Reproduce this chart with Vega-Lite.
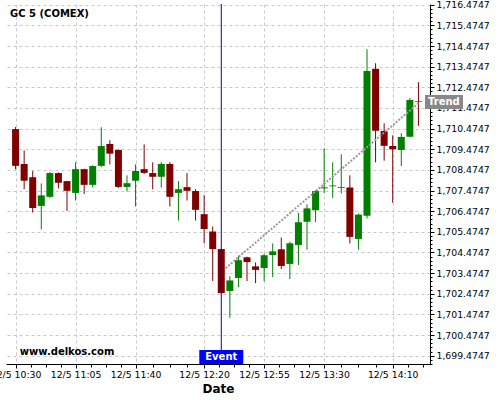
{
  "$schema": "https://vega.github.io/schema/vega-lite/v6.json",
  "width": 424,
  "height": 360,
  "autosize": {"type": "none"},
  "padding": {"left": 6, "top": 4, "right": 70, "bottom": 36},
  "config": {"font": "DejaVu Sans", "view": {"stroke": null}},
  "title": {"text": "GC 5 (COMEX)", "anchor": "start", "frame": "group", "orient": "top", "offset": -18, "dx": 4, "fontSize": 10, "fontWeight": "bold", "color": "#000000"},
  "datasets": {
    "candles": [
      {"t": "2012-12-05T10:30", "o": 1710.45, "h": 1710.55, "l": 1708.50, "c": 1708.67},
      {"t": "2012-12-05T10:35", "o": 1708.76, "h": 1709.42, "l": 1707.54, "c": 1707.95},
      {"t": "2012-12-05T10:40", "o": 1708.12, "h": 1708.42, "l": 1706.41, "c": 1706.63},
      {"t": "2012-12-05T10:45", "o": 1706.73, "h": 1707.82, "l": 1705.59, "c": 1707.24},
      {"t": "2012-12-05T10:50", "o": 1707.17, "h": 1708.38, "l": 1707.12, "c": 1708.32},
      {"t": "2012-12-05T10:55", "o": 1708.32, "h": 1708.35, "l": 1707.58, "c": 1707.85},
      {"t": "2012-12-05T11:00", "o": 1707.93, "h": 1707.95, "l": 1706.49, "c": 1707.46},
      {"t": "2012-12-05T11:05", "o": 1707.36, "h": 1708.84, "l": 1706.99, "c": 1708.51},
      {"t": "2012-12-05T11:10", "o": 1708.51, "h": 1708.53, "l": 1707.31, "c": 1707.75},
      {"t": "2012-12-05T11:15", "o": 1707.75, "h": 1708.70, "l": 1707.62, "c": 1708.66},
      {"t": "2012-12-05T11:20", "o": 1708.67, "h": 1710.54, "l": 1708.62, "c": 1709.63},
      {"t": "2012-12-05T11:25", "o": 1709.73, "h": 1709.91, "l": 1708.74, "c": 1709.26},
      {"t": "2012-12-05T11:30", "o": 1709.44, "h": 1709.46, "l": 1707.60, "c": 1707.65},
      {"t": "2012-12-05T11:35", "o": 1707.65, "h": 1708.21, "l": 1707.43, "c": 1707.83},
      {"t": "2012-12-05T11:40", "o": 1707.95, "h": 1708.74, "l": 1706.70, "c": 1708.42},
      {"t": "2012-12-05T11:45", "o": 1708.51, "h": 1709.71, "l": 1708.28, "c": 1708.33},
      {"t": "2012-12-05T11:50", "o": 1708.32, "h": 1708.84, "l": 1707.53, "c": 1708.14},
      {"t": "2012-12-05T11:55", "o": 1708.14, "h": 1708.85, "l": 1707.62, "c": 1708.76},
      {"t": "2012-12-05T12:00", "o": 1708.76, "h": 1708.85, "l": 1706.70, "c": 1707.17},
      {"t": "2012-12-05T12:05", "o": 1707.36, "h": 1707.93, "l": 1706.02, "c": 1707.54},
      {"t": "2012-12-05T12:10", "o": 1707.64, "h": 1708.32, "l": 1706.99, "c": 1707.46},
      {"t": "2012-12-05T12:15", "o": 1707.45, "h": 1707.54, "l": 1706.02, "c": 1706.54},
      {"t": "2012-12-05T12:20", "o": 1706.33, "h": 1707.25, "l": 1704.91, "c": 1705.61},
      {"t": "2012-12-05T12:25", "o": 1705.49, "h": 1705.73, "l": 1703.09, "c": 1704.64},
      {"t": "2012-12-05T12:30", "o": 1704.64, "h": 1704.66, "l": 1702.48, "c": 1702.51},
      {"t": "2012-12-05T12:35", "o": 1702.61, "h": 1703.32, "l": 1701.31, "c": 1703.12},
      {"t": "2012-12-05T12:40", "o": 1703.24, "h": 1704.32, "l": 1702.80, "c": 1704.10},
      {"t": "2012-12-05T12:45", "o": 1704.24, "h": 1704.27, "l": 1703.09, "c": 1704.01},
      {"t": "2012-12-05T12:50", "o": 1703.80, "h": 1703.99, "l": 1702.99, "c": 1703.63},
      {"t": "2012-12-05T12:55", "o": 1703.72, "h": 1704.42, "l": 1703.09, "c": 1704.34},
      {"t": "2012-12-05T13:00", "o": 1704.35, "h": 1704.91, "l": 1703.28, "c": 1704.53},
      {"t": "2012-12-05T13:05", "o": 1704.63, "h": 1705.20, "l": 1703.67, "c": 1703.82},
      {"t": "2012-12-05T13:10", "o": 1703.92, "h": 1705.00, "l": 1703.19, "c": 1704.92},
      {"t": "2012-12-05T13:15", "o": 1704.84, "h": 1706.39, "l": 1703.87, "c": 1705.94},
      {"t": "2012-12-05T13:20", "o": 1705.96, "h": 1706.81, "l": 1704.61, "c": 1706.61},
      {"t": "2012-12-05T13:25", "o": 1706.52, "h": 1707.49, "l": 1705.94, "c": 1707.45},
      {"t": "2012-12-05T13:30", "o": 1707.58, "h": 1709.52, "l": 1707.36, "c": 1707.63},
      {"t": "2012-12-05T13:35", "o": 1707.68, "h": 1708.84, "l": 1707.12, "c": 1707.72},
      {"t": "2012-12-05T13:40", "o": 1707.60, "h": 1709.23, "l": 1707.33, "c": 1707.64},
      {"t": "2012-12-05T13:45", "o": 1707.62, "h": 1708.21, "l": 1704.91, "c": 1705.23},
      {"t": "2012-12-05T13:50", "o": 1705.13, "h": 1706.36, "l": 1704.61, "c": 1706.31},
      {"t": "2012-12-05T13:55", "o": 1706.25, "h": 1714.32, "l": 1706.12, "c": 1713.27},
      {"t": "2012-12-05T14:00", "o": 1713.37, "h": 1713.64, "l": 1708.84, "c": 1710.37},
      {"t": "2012-12-05T14:05", "o": 1710.36, "h": 1710.73, "l": 1708.92, "c": 1709.64},
      {"t": "2012-12-05T14:10", "o": 1709.63, "h": 1710.15, "l": 1706.88, "c": 1709.47},
      {"t": "2012-12-05T14:15", "o": 1709.44, "h": 1710.25, "l": 1708.66, "c": 1710.07},
      {"t": "2012-12-05T14:20", "o": 1710.08, "h": 1711.95, "l": 1710.05, "c": 1711.86},
      {"t": "2012-12-05T14:25", "o": 1711.81, "h": 1712.72, "l": 1710.61, "c": 1711.78}
    ],
    "trend": [
      {"t": "2012-12-05T12:32:30", "v": 1703.71},
      {"t": "2012-12-05T14:25", "v": 1711.70}
    ],
    "events": [
      {"t": "2012-12-05T12:30", "label": "Event", "v": 1699.41}
    ],
    "tags": [
      {"t": "2012-12-05T14:28:50", "label": "Trend", "v": 1711.76}
    ],
    "marks": [
      {"t": "2012-12-05T10:32:30", "label": "www.delkos.com", "v": 1699.65}
    ]
  },
  "encoding": {
    "x": {
      "field": "t",
      "type": "temporal",
      "scale": {
        "domain": [
          {"year": 2012, "month": 12, "date": 5, "hours": 10, "minutes": 27, "seconds": 20},
          {"year": 2012, "month": 12, "date": 5, "hours": 14, "minutes": 28, "seconds": 50}
        ],
        "nice": false
      },
      "axis": {
        "title": "Date",
        "titleFontSize": 12,
        "titleFontWeight": "bold",
        "titleColor": "#000000",
        "titlePadding": 4,
        "format": "%-m/%-d %H:%M",
        "tickCount": 200,
        "labelExpr": "seconds(datum.value) == 0 && ((hours(datum.value)*60+minutes(datum.value)) == 630 || (hours(datum.value)*60+minutes(datum.value)) == 665 || (hours(datum.value)*60+minutes(datum.value)) == 700 || (hours(datum.value)*60+minutes(datum.value)) == 740 || (hours(datum.value)*60+minutes(datum.value)) == 775 || (hours(datum.value)*60+minutes(datum.value)) == 810 || (hours(datum.value)*60+minutes(datum.value)) == 850) ? datum.label : ''",
        "values": [
          {"year": 2012, "month": 12, "date": 5, "hours": 10, "minutes": 30},
          {"year": 2012, "month": 12, "date": 5, "hours": 10, "minutes": 38, "seconds": 45},
          {"year": 2012, "month": 12, "date": 5, "hours": 10, "minutes": 47, "seconds": 30},
          {"year": 2012, "month": 12, "date": 5, "hours": 10, "minutes": 56, "seconds": 15},
          {"year": 2012, "month": 12, "date": 5, "hours": 11, "minutes": 5},
          {"year": 2012, "month": 12, "date": 5, "hours": 11, "minutes": 13, "seconds": 45},
          {"year": 2012, "month": 12, "date": 5, "hours": 11, "minutes": 22, "seconds": 30},
          {"year": 2012, "month": 12, "date": 5, "hours": 11, "minutes": 31, "seconds": 15},
          {"year": 2012, "month": 12, "date": 5, "hours": 11, "minutes": 40},
          {"year": 2012, "month": 12, "date": 5, "hours": 11, "minutes": 50},
          {"year": 2012, "month": 12, "date": 5, "hours": 12, "minutes": 0},
          {"year": 2012, "month": 12, "date": 5, "hours": 12, "minutes": 10},
          {"year": 2012, "month": 12, "date": 5, "hours": 12, "minutes": 20},
          {"year": 2012, "month": 12, "date": 5, "hours": 12, "minutes": 28, "seconds": 45},
          {"year": 2012, "month": 12, "date": 5, "hours": 12, "minutes": 37, "seconds": 30},
          {"year": 2012, "month": 12, "date": 5, "hours": 12, "minutes": 46, "seconds": 15},
          {"year": 2012, "month": 12, "date": 5, "hours": 12, "minutes": 55},
          {"year": 2012, "month": 12, "date": 5, "hours": 13, "minutes": 3, "seconds": 45},
          {"year": 2012, "month": 12, "date": 5, "hours": 13, "minutes": 12, "seconds": 30},
          {"year": 2012, "month": 12, "date": 5, "hours": 13, "minutes": 21, "seconds": 15},
          {"year": 2012, "month": 12, "date": 5, "hours": 13, "minutes": 30},
          {"year": 2012, "month": 12, "date": 5, "hours": 13, "minutes": 40},
          {"year": 2012, "month": 12, "date": 5, "hours": 13, "minutes": 50},
          {"year": 2012, "month": 12, "date": 5, "hours": 14, "minutes": 0},
          {"year": 2012, "month": 12, "date": 5, "hours": 14, "minutes": 10},
          {"year": 2012, "month": 12, "date": 5, "hours": 14, "minutes": 18, "seconds": 45},
          {"year": 2012, "month": 12, "date": 5, "hours": 14, "minutes": 27, "seconds": 30}
        ],
        "labelFontSize": 9.3,
        "labelColor": "#000000",
        "labelPadding": 2,
        "labelOverlap": false,
        "labelFlush": false,
        "labelBound": false,
        "tickColor": "#000000",
        "tickSize": {"condition": {"test": "seconds(datum.value) == 0 && ((hours(datum.value)*60+minutes(datum.value)) == 630 || (hours(datum.value)*60+minutes(datum.value)) == 665 || (hours(datum.value)*60+minutes(datum.value)) == 700 || (hours(datum.value)*60+minutes(datum.value)) == 740 || (hours(datum.value)*60+minutes(datum.value)) == 775 || (hours(datum.value)*60+minutes(datum.value)) == 810 || (hours(datum.value)*60+minutes(datum.value)) == 850)", "value": 4}, "value": 3},
        "domainColor": "#000000",
        "grid": true,
        "gridColor": "#c8c8c8",
        "gridDash": [3, 3],
        "gridOpacity": {"condition": {"test": "seconds(datum.value) == 0 && ((hours(datum.value)*60+minutes(datum.value)) == 630 || (hours(datum.value)*60+minutes(datum.value)) == 665 || (hours(datum.value)*60+minutes(datum.value)) == 700 || (hours(datum.value)*60+minutes(datum.value)) == 740 || (hours(datum.value)*60+minutes(datum.value)) == 775 || (hours(datum.value)*60+minutes(datum.value)) == 810 || (hours(datum.value)*60+minutes(datum.value)) == 850)", "value": 1}, "value": 0}
      }
    }
  },
  "layer": [
    {
      "data": {"name": "candles"},
      "mark": {"type": "rule", "strokeWidth": 1},
      "encoding": {
        "y": {
          "field": "l",
          "type": "quantitative",
          "scale": {"domain": [1699.073, 1716.509], "zero": false, "nice": false},
          "axis": {
            "orient": "right",
            "title": null,
            "format": ",.4f",
            "tickCount": 200,
            "values": [1699.0747, 1699.2747, 1699.4747, 1699.6747, 1699.8747, 1700.0747, 1700.2747, 1700.4747, 1700.6747, 1700.8747, 1701.0747, 1701.2747, 1701.4747, 1701.6747, 1701.8747, 1702.0747, 1702.2747, 1702.4747, 1702.6747, 1702.8747, 1703.0747, 1703.2747, 1703.4747, 1703.6747, 1703.8747, 1704.0747, 1704.2747, 1704.4747, 1704.6747, 1704.8747, 1705.0747, 1705.2747, 1705.4747, 1705.6747, 1705.8747, 1706.0747, 1706.2747, 1706.4747, 1706.6747, 1706.8747, 1707.0747, 1707.2747, 1707.4747, 1707.6747, 1707.8747, 1708.0747, 1708.2747, 1708.4747, 1708.6747, 1708.8747, 1709.0747, 1709.2747, 1709.4747, 1709.6747, 1709.8747, 1710.0747, 1710.2747, 1710.4747, 1710.6747, 1710.8747, 1711.0747, 1711.2747, 1711.4747, 1711.6747, 1711.8747, 1712.0747, 1712.2747, 1712.4747, 1712.6747, 1712.8747, 1713.0747, 1713.2747, 1713.4747, 1713.6747, 1713.8747, 1714.0747, 1714.2747, 1714.4747, 1714.6747, 1714.8747, 1715.0747, 1715.2747, 1715.4747, 1715.6747, 1715.8747, 1716.0747, 1716.2747, 1716.4747],
            "labelExpr": "abs(datum.value - 1699.4747 - round(datum.value - 1699.4747)) < 0.01 ? datum.label : ''",
            "labelFontSize": 9.3,
            "labelColor": "#000000",
            "labelPadding": 2,
            "labelOverlap": false,
            "labelBound": false,
            "labelFlush": false,
            "tickColor": "#000000",
            "tickSize": {"condition": {"test": "abs(datum.value - 1699.4747 - round(datum.value - 1699.4747)) < 0.01", "value": 4}, "value": 2},
            "domainColor": "#000000",
            "grid": true,
            "gridColor": "#c8c8c8",
            "gridDash": [3, 3],
            "gridOpacity": {"condition": {"test": "abs(datum.value - 1699.4747 - round(datum.value - 1699.4747)) < 0.01", "value": 1}, "value": 0}
          }
        },
        "y2": {"field": "h"},
        "color": {"condition": {"test": "datum.c >= datum.o", "value": "#008000"}, "value": "#800000"}
      }
    },
    {
      "data": {"name": "candles"},
      "mark": {"type": "bar", "width": 7},
      "encoding": {
        "y": {"field": "o", "type": "quantitative"},
        "y2": {"field": "c"},
        "color": {"condition": {"test": "datum.c >= datum.o", "value": "#008000"}, "value": "#800000"}
      }
    },
    {
      "data": {"name": "trend"},
      "mark": {"type": "line", "color": "#999999", "strokeWidth": 2, "strokeDash": [2, 1.5]},
      "encoding": {
        "y": {"field": "v", "type": "quantitative"}
      }
    },
    {
      "data": {"name": "events"},
      "mark": {"type": "rule", "color": "#0000cc", "strokeWidth": 1},
      "encoding": {}
    },
    {
      "data": {"name": "events"},
      "mark": {"type": "point", "shape": "M-1,-0.318L1,-0.318L1,0.318L-1,0.318Z", "size": 1936, "filled": true, "color": "#0000ff", "opacity": 1, "strokeWidth": 0},
      "encoding": {
        "y": {"field": "v", "type": "quantitative"}
      }
    },
    {
      "data": {"name": "events"},
      "mark": {"type": "text", "color": "#ffffff", "fontWeight": "bold", "fontSize": 10, "align": "center", "baseline": "middle"},
      "encoding": {
        "y": {"field": "v", "type": "quantitative"},
        "text": {"field": "label"}
      }
    },
    {
      "data": {"name": "tags"},
      "mark": {"type": "point", "shape": "M0,-0.368L2,-0.368L2,0.368L0,0.368Z", "size": 1444, "filled": true, "color": "#888888", "opacity": 1, "strokeWidth": 0},
      "encoding": {
        "y": {"field": "v", "type": "quantitative"}
      }
    },
    {
      "data": {"name": "tags"},
      "mark": {"type": "text", "color": "#ffffff", "fontWeight": "bold", "fontSize": 10, "align": "left", "baseline": "middle", "dx": 3},
      "encoding": {
        "y": {"field": "v", "type": "quantitative"},
        "text": {"field": "label"}
      }
    },
    {
      "data": {"name": "marks"},
      "mark": {"type": "text", "color": "#000000", "fontWeight": "bold", "fontSize": 10, "align": "left", "baseline": "middle"},
      "encoding": {
        "y": {"field": "v", "type": "quantitative"},
        "text": {"field": "label"}
      }
    }
  ]
}
